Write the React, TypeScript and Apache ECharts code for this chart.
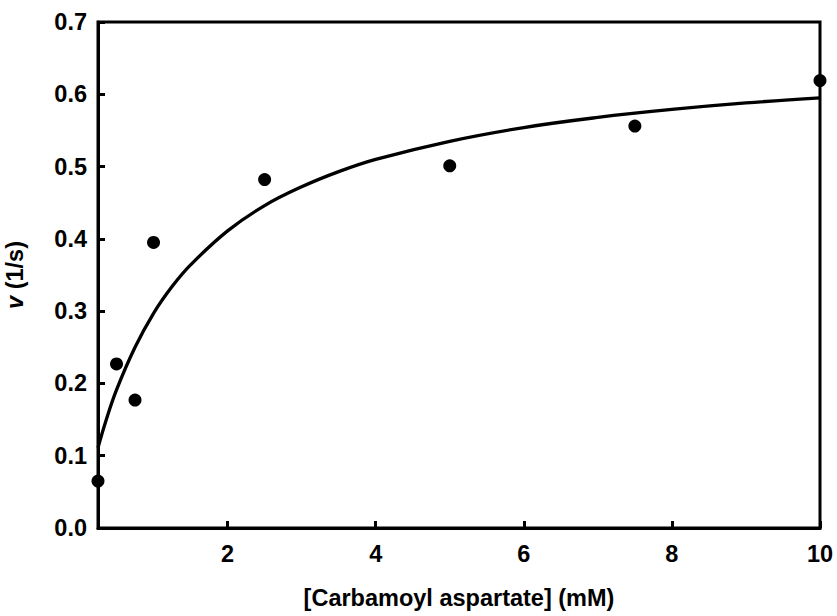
import React, { useEffect, useRef } from "react";
import * as echarts from "echarts";

// Measured substrate concentrations (mM) and velocities (1/s)
const substrateMM = [0.25, 0.5, 0.75, 1, 2.5, 5, 7.5, 10];
const velocity = [0.065, 0.227, 0.177, 0.395, 0.482, 0.501, 0.556, 0.619];

// Fitted curve at these concentrations
const fitX = [0.25, 0.35, 0.5, 0.75, 1, 1.25, 1.5, 2, 2.5, 3, 3.5, 4, 5, 6, 7, 8, 9, 10];
const fitY = [0.111, 0.146, 0.191, 0.25, 0.297, 0.334, 0.364, 0.411, 0.446, 0.472, 0.493, 0.51, 0.535, 0.554, 0.568, 0.579, 0.588, 0.595];

// Axis ticks
const xTicks = [2, 4, 6, 8, 10];

const FONT = "'Liberation Sans', Arial, sans-serif";
const FS = 23.5;

export default function App() {
  const ref = useRef<HTMLDivElement>(null);

  useEffect(() => {
    document.body.style.margin = "0";
    if (!ref.current) return;
    const chart = echarts.init(ref.current, undefined, { renderer: "svg" });
    const scatterData = substrateMM.map((x, i) => [x, velocity[i]]);
    const fitData = fitX.map((x, i) => [x, fitY[i]]);
    const txt = { fontFamily: FONT, fontWeight: "bold", fontSize: FS, color: "#000" };
    chart.setOption({
      animation: false,
      backgroundColor: "#fff",
      grid: {
        left: 98,
        right: 17,
        top: 22,
        bottom: 88,
        containLabel: false,
        outerBoundsMode: "none",
        show: true,
        borderColor: "#000",
        borderWidth: 3,
        backgroundColor: "transparent",
      },
      xAxis: {
        type: "value",
        min: 0.25,
        max: 10,
        name: "{b|[Carbamoyl aspartate] (mM)}",
        nameLocation: "middle",
        nameGap: 58,
        nameTextStyle: { ...txt, rich: { b: { ...txt } } },
        axisLine: { show: true, lineStyle: { color: "#000", width: 3 } },
        axisTick: {
          show: true,
          inside: true,
          length: 7,
          lineStyle: { color: "#000", width: 3 },
          customValues: xTicks,
        },
        axisLabel: { ...txt, margin: 14, customValues: xTicks },
        splitLine: { show: false },
      },
      yAxis: {
        type: "value",
        min: 0,
        max: 0.7,
        interval: 0.1,
        name: "{i|v} {b|(1/s)}",
        nameLocation: "middle",
        nameGap: 71,
        nameRotate: 90,
        nameTextStyle: {
          ...txt,
          rich: {
            i: { ...txt, fontStyle: "italic" },
            b: { ...txt },
          },
        },
        axisLine: { show: true, lineStyle: { color: "#000", width: 3 } },
        axisTick: { show: true, inside: true, length: 7, lineStyle: { color: "#000", width: 3 } },
        axisLabel: { ...txt, margin: 11, formatter: (v: number) => v.toFixed(1) },
        splitLine: { show: false },
      },
      series: [
        {
          type: "line",
          data: fitData,
          smooth: 0.4,
          showSymbol: false,
          lineStyle: { color: "#000", width: 3.3 },
          z: 2,
        },
        {
          type: "scatter",
          data: scatterData,
          symbol: "circle",
          symbolSize: 13,
          itemStyle: { color: "#000", opacity: 1 },
          z: 3,
        },
      ],
    });
    return () => chart.dispose();
  }, []);

  return <div ref={ref} style={{ width: 837, height: 616 }} />;
}
